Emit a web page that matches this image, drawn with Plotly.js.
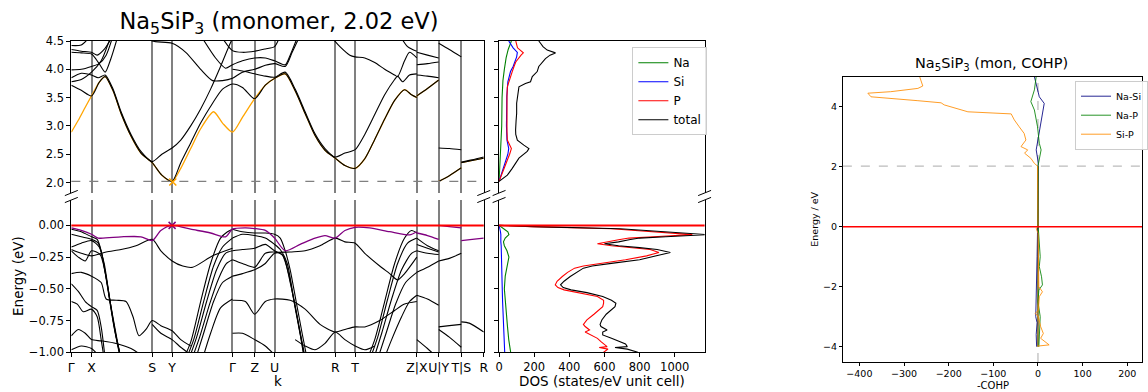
<!DOCTYPE html>
<html><head><meta charset="utf-8">
<script src="https://cdn.plot.ly/plotly-3.0.1.min.js"></script>
<style>html,body{margin:0;padding:0;background:#fff}#chart{width:1148px;height:392px}</style>
</head><body><div id="chart"></div>
<script>
// ---------- high-symmetry path ----------
const KPOS = [0, 0.203, 0.813, 1.013, 1.62, 1.843, 2.043, 2.653, 2.853, 3.473, 3.693, 3.92, 4.146];
const KLAB = ['Γ','X','S','Y','Γ','Z','U','R','T','Z|X','U|Y','T|S','R'];
const GAP = 2.02;

// ---------- conduction bands (k, E) ----------
const CB1 = [[0,3.72],[0.1,3.63],[0.203,3.53],[0.28,3.77],[0.34,3.87],[0.42,3.62],[0.5,3.22],[0.6,2.82],[0.7,2.52],[0.813,2.35],[0.91,2.13],[1.013,2.02],[1.1,2.35],[1.2,2.7],[1.3,3.05],[1.42,3.4],[1.52,3.65],[1.62,3.74],[1.72,3.68],[1.843,3.48],[1.95,3.72],[2.043,3.84],[2.15,3.92],[2.25,3.62],[2.35,3.22],[2.45,2.83],[2.55,2.57],[2.653,2.43],[2.75,2.3],[2.853,2.25],[2.95,2.42],[3.05,2.76],[3.15,3.12],[3.25,3.45],[3.35,3.64],[3.42,3.55],[3.473,3.5]];
const CB2 = [[0,3.85],[0.1,3.93],[0.203,3.9],[0.27,3.85],[0.34,3.9],[0.42,3.65],[0.5,3.25],[0.6,2.85],[0.7,2.55],[0.813,2.37],[0.91,2.5],[1.013,2.61],[1.1,2.75],[1.2,3.0],[1.3,3.3],[1.4,3.65],[1.5,4.05],[1.6,4.47],[1.64,4.6]];
const CB3 = [[1.62,4.0],[1.72,3.97],[1.843,3.92],[1.95,3.88],[2.043,3.86],[2.15,3.95],[2.25,3.65],[2.35,3.25],[2.45,2.86],[2.55,2.6],[2.653,2.45],[2.75,2.52],[2.853,2.58],[2.95,2.85],[3.05,3.2],[3.15,3.55],[3.25,3.82],[3.28,3.88],[3.33,3.78],[3.4,3.9],[3.473,3.92]];
const CB4 = [[0,4.3],[0.1,4.29],[0.203,4.27],[0.28,4.1],[0.34,3.95],[0.4,4.2],[0.47,4.6]];
const CB5 = [[0,4.35],[0.1,4.32],[0.203,4.3],[0.26,4.25],[0.33,4.35],[0.42,4.6]];
const CB6 = [[0,3.99],[0.1,4.0],[0.203,4.05],[0.28,4.1],[0.35,4.25],[0.42,4.6]];
const CB7 = [[0,3.78],[0.1,3.82],[0.203,3.95],[0.3,4.15],[0.4,4.6]];
const CB8 = [[0,4.42],[0.1,4.43],[0.2,4.6]];
const CB9 = [[0.75,4.6],[0.813,4.5],[1.013,4.46],[1.15,4.3],[1.3,4.0],[1.42,3.8],[1.52,3.8],[1.62,3.84],[1.72,3.95],[1.843,4.0],[1.95,4.07],[2.043,4.1],[2.15,4.05],[2.22,4.3],[2.3,4.6]];
const CB10 = [[1.3,4.6],[1.45,4.2],[1.55,4.02],[1.62,4.08],[1.72,4.15],[1.843,4.2],[1.95,4.2],[2.043,4.15],[2.15,4.08],[2.2,4.25],[2.28,4.6]];
const CB11 = [[1.5,4.6],[1.62,4.33],[1.72,4.3],[1.843,4.32],[1.95,4.36],[2.043,4.4],[2.1,4.6]];
const CB12 = [[2.6,4.6],[2.7,4.4],[2.8,4.25],[2.853,4.22],[2.95,4.2],[3.05,4.12],[3.15,4.0],[3.25,3.9],[3.28,3.87],[3.35,4.15],[3.4,4.3],[3.473,4.2]];
const CB13 = [[3.3,4.6],[3.38,4.4],[3.43,4.35],[3.473,4.32]];
const XU_C1 = [[3.473,3.53],[3.58,3.66],[3.693,3.81]];
const XU_C2 = [[3.473,3.9],[3.58,3.88],[3.693,3.85]];
const XU_C3 = [[3.473,4.08],[3.58,4.1],[3.693,4.13]];
const XU_C4 = [[3.473,4.3],[3.58,4.25],[3.693,4.2]];
const YT_C1 = [[3.693,2.02],[3.8,2.12],[3.92,2.26]];
const YT_C2 = [[3.693,2.61],[3.8,2.6],[3.92,2.58]];
const YT_C3 = [[3.693,4.46],[3.8,4.35],[3.92,4.22]];
const SR_C1 = [[3.92,2.35],[4.03,2.39],[4.146,2.43]];
const SR_C2 = [[3.92,2.36],[4.03,2.4],[4.146,2.45]];
// lowest conduction band (orange), by path segment
const LCB_MAIN = [[0,2.89],[0.07,3.1],[0.14,3.33],[0.203,3.53],[0.28,3.77],[0.34,3.87],[0.42,3.62],[0.5,3.22],[0.6,2.82],[0.7,2.52],[0.813,2.35],[0.91,2.13],[1.013,2.02],[1.1,2.25],[1.2,2.6],[1.3,2.95],[1.43,3.25],[1.52,3.05],[1.62,2.89],[1.72,3.15],[1.843,3.48],[1.95,3.72],[2.043,3.84],[2.15,3.92],[2.25,3.62],[2.35,3.22],[2.45,2.83],[2.55,2.57],[2.653,2.43],[2.75,2.3],[2.853,2.25],[2.95,2.42],[3.05,2.76],[3.15,3.12],[3.25,3.45],[3.35,3.64],[3.42,3.55],[3.473,3.5]];
const LCB_XU = [[3.473,3.53],[3.58,3.66],[3.693,3.81]];
const LCB_YT = [[3.693,2.02],[3.8,2.12],[3.92,2.26]];
const LCB_SR = [[3.92,2.35],[4.03,2.39],[4.146,2.43]];

// ---------- valence bands (k, E) ----------
const HVB_MAIN = [[0,-0.02],[0.1,-0.04],[0.203,-0.07],[0.27,-0.1],[0.5,-0.09],[0.7,-0.09],[0.813,-0.12],[0.9,-0.04],[1.013,0],[1.2,-0.03],[1.4,-0.06],[1.55,-0.09],[1.62,-0.03],[1.75,-0.02],[1.843,-0.025],[1.95,-0.04],[2.043,-0.1],[2.15,-0.2],[2.3,-0.15],[2.45,-0.1],[2.55,-0.08],[2.653,-0.1],[2.75,-0.04],[2.853,-0.015],[3.0,-0.02],[3.2,-0.05],[3.4,-0.075],[3.473,-0.05]];
const HVB_XU = [[3.473,-0.06],[3.58,-0.08],[3.693,-0.11]];
const HVB_YT = [[3.693,0.0],[3.8,-0.01],[3.92,-0.02]];
const HVB_SR = [[3.92,-0.12],[4.03,-0.11],[4.146,-0.1]];
const VB1 = [[0,-0.03],[0.1,-0.05],[0.203,-0.09],[0.26,-0.11],[0.3,-0.2],[0.35,-0.42],[0.42,-0.76],[0.48,-1.0],[0.52,-1.15]];
const VB2 = [[0,-0.07],[0.1,-0.09],[0.203,-0.11],[0.27,-0.14],[0.31,-0.24],[0.37,-0.5],[0.44,-0.84],[0.5,-1.05]];
const VB3 = [[0,-0.17],[0.1,-0.14],[0.203,-0.12],[0.28,-0.17],[0.33,-0.3],[0.39,-0.6],[0.46,-0.9],[0.51,-1.1]];
const VB4 = [[0,-0.2],[0.07,-0.25],[0.14,-0.28],[0.203,-0.2],[0.29,-0.23],[0.34,-0.37],[0.41,-0.7],[0.47,-0.95],[0.52,-1.1]];
const VB5 = [[0,-0.19],[0.1,-0.22],[0.203,-0.24],[0.35,-0.21],[0.5,-0.19],[0.65,-0.16],[0.813,-0.11],[0.9,-0.2],[1.013,-0.28],[1.12,-0.32],[1.22,-0.33],[1.42,-0.24],[1.62,-0.18]];
const VB6 = [[0,-0.38],[0.1,-0.37],[0.203,-0.4],[0.3,-0.45],[0.35,-0.58],[0.45,-0.59],[0.55,-0.6],[0.62,-0.72],[0.68,-0.87],[0.75,-0.82],[0.813,-0.75],[0.9,-0.79],[1.013,-0.83],[1.1,-0.9],[1.2,-0.95]];
const VB7 = [[0,-0.46],[0.07,-0.52],[0.14,-0.6],[0.203,-0.64],[0.26,-0.67],[0.3,-0.8],[0.34,-1.05]];
const VB8 = [[0,-0.6],[0.06,-0.62],[0.12,-0.68],[0.203,-0.66],[0.26,-0.72],[0.3,-0.9],[0.33,-1.05]];
const VB9 = [[0,-0.87],[0.07,-0.82],[0.14,-0.85],[0.203,-0.9],[0.3,-0.91],[0.45,-0.93],[0.6,-0.97],[0.7,-1.02]];
const VB10 = [[0,-0.98],[0.1,-0.95],[0.203,-0.97],[0.3,-1.05]];
const VB11 = [[0.813,-0.78],[0.9,-0.85],[1.013,-0.9],[1.1,-0.96],[1.2,-1.02]];
const VF1 = [[1.1,-1.1],[1.2,-0.92],[1.3,-0.6],[1.4,-0.3],[1.5,-0.1],[1.57,-0.05],[1.62,-0.03]];
const VF2 = [[1.13,-1.1],[1.23,-0.9],[1.33,-0.6],[1.43,-0.32],[1.52,-0.17],[1.62,-0.1]];
const VF3 = [[1.16,-1.1],[1.26,-0.88],[1.36,-0.6],[1.46,-0.35],[1.55,-0.22],[1.62,-0.2]];
const VF4 = [[1.19,-1.1],[1.29,-0.88],[1.39,-0.62],[1.48,-0.42],[1.56,-0.3],[1.62,-0.27]];
const VF5 = [[1.23,-1.1],[1.33,-0.85],[1.43,-0.6],[1.52,-0.45],[1.62,-0.4]];
const VF6 = [[1.3,-1.1],[1.4,-0.85],[1.5,-0.65],[1.62,-0.58]];
const VG1 = [[1.62,-0.03],[1.72,-0.05],[1.843,-0.06],[1.95,-0.06],[2.043,-0.07],[2.1,-0.1],[2.15,-0.2],[2.2,-0.35],[2.26,-0.6],[2.32,-0.85],[2.37,-1.05]];
const VG2 = [[1.62,-0.1],[1.72,-0.07],[1.843,-0.08],[1.95,-0.1],[2.043,-0.15],[2.1,-0.19],[2.17,-0.3],[2.23,-0.55],[2.29,-0.8],[2.34,-1.0],[2.36,-1.1]];
const VG3 = [[1.62,-0.2],[1.72,-0.19],[1.843,-0.18],[1.95,-0.15],[2.043,-0.2],[2.12,-0.23],[2.19,-0.4],[2.25,-0.65],[2.31,-0.9],[2.35,-1.1]];
const VG4 = [[1.62,-0.27],[1.72,-0.3],[1.843,-0.33],[1.95,-0.22],[2.043,-0.21],[2.13,-0.24],[2.2,-0.45],[2.27,-0.72],[2.33,-0.98],[2.36,-1.1]];
const VG5 = [[1.62,-0.4],[1.72,-0.38],[1.843,-0.35],[1.95,-0.3],[2.043,-0.22],[2.2,-0.21],[2.35,-0.2],[2.5,-0.16],[2.653,-0.1],[2.75,-0.13],[2.853,-0.14],[2.95,-0.22],[3.1,-0.32],[3.2,-0.38],[3.28,-0.43],[3.35,-0.38],[3.473,-0.25]];
const VG6 = [[1.62,-0.59],[1.75,-0.6],[1.843,-0.7],[1.95,-0.6],[2.043,-0.58],[2.2,-0.59],[2.35,-0.66],[2.5,-0.78],[2.653,-0.84],[2.75,-0.82],[2.853,-0.8],[2.95,-0.8],[3.1,-0.75],[3.25,-0.67],[3.35,-0.62],[3.473,-0.6]];
const VG7 = [[1.62,-0.85],[1.72,-0.85],[1.843,-0.9],[1.95,-0.95],[2.043,-1.02]];
const VG8 = [[2.25,-0.9],[2.35,-0.95],[2.45,-0.98],[2.55,-0.93],[2.653,-0.84],[2.75,-0.9],[2.853,-0.95],[2.95,-0.98],[3.05,-0.95]];
const VT1 = [[2.95,-1.1],[3.05,-0.9],[3.15,-0.6],[3.25,-0.3],[3.35,-0.1],[3.42,-0.04],[3.473,-0.06]];
const VT2 = [[2.98,-1.1],[3.08,-0.88],[3.18,-0.58],[3.28,-0.3],[3.38,-0.14],[3.473,-0.1]];
const VT3 = [[3.02,-1.1],[3.12,-0.85],[3.22,-0.58],[3.32,-0.35],[3.42,-0.22],[3.473,-0.2]];
const VT4 = [[3.06,-1.1],[3.16,-0.86],[3.26,-0.62],[3.36,-0.45],[3.473,-0.37]];
const VT5 = [[3.12,-1.1],[3.22,-0.9],[3.32,-0.72],[3.4,-0.6],[3.473,-0.55]];
const XU_V1 = [[3.473,-0.1],[3.58,-0.16],[3.693,-0.2]];
const XU_V2 = [[3.473,-0.15],[3.58,-0.18],[3.693,-0.21]];
const XU_V3 = [[3.473,-0.2],[3.58,-0.22],[3.693,-0.23]];
const XU_V4 = [[3.473,-0.37],[3.58,-0.33],[3.693,-0.28]];
const XU_V5 = [[3.473,-0.55],[3.58,-0.58],[3.693,-0.63]];
const XU_V6 = [[3.473,-0.9],[3.58,-0.97],[3.693,-1.05]];
const YT_V1 = [[3.693,-0.28],[3.8,-0.26],[3.92,-0.22]];
const YT_V2 = [[3.693,-0.8],[3.8,-0.79],[3.92,-0.78]];
const YT_V3 = [[3.693,-0.82],[3.8,-0.88],[3.92,-0.96]];
const SR_V1 = [[3.92,-0.76],[4.0,-0.77],[4.146,-0.84]];

// ---------- DOS ----------
const DOS_E_TOT_LO = [0,-0.01,-0.026,-0.05,-0.073,-0.09,-0.1,-0.113,-0.13,-0.145,-0.16,-0.175,-0.19,-0.213,-0.24,-0.271,-0.297,-0.32,-0.337,-0.37,-0.403,-0.44,-0.468,-0.49,-0.508,-0.53,-0.56,-0.59,-0.613,-0.64,-0.666,-0.7,-0.745,-0.78,-0.797,-0.824,-0.84,-0.863,-0.89,-0.916,-0.935,-0.955,-0.962,-0.975,-1.0];
const DOS_TOT_LO = [0,200,690,950,1190,950,800,740,680,600,680,800,900,975,900,800,650,530,480,440,405,370,350,365,410,500,590,640,665,660,640,610,585,575,580,615,590,590,640,690,720,730,660,730,790];
const DOS_P_LO = [0,180,640,880,1100,880,740,680,620,560,640,760,860,910,840,720,580,480,430,390,360,330,320,335,370,450,560,595,595,590,570,540,500,480,490,515,490,520,560,580,600,615,570,620,595];
const DOS_E_SP_LO = [0,-0.01,-0.03,-0.05,-0.073,-0.1,-0.13,-0.16,-0.2,-0.25,-0.3,-0.4,-0.5,-0.6,-0.7,-0.8,-0.9,-1.0];
const DOS_NA_LO = [0,8,30,50,56,35,25,30,45,56,48,35,30,35,42,48,55,66];
const DOS_SI_LO = [0,2,5,8,10,9,10,12,13,15,17,18,18,20,22,25,28,32];
const DOS_E_TOT_HI = [2.02,2.13,2.25,2.34,2.43,2.55,2.6,2.66,2.75,2.85,2.93,3.1,3.22,3.4,3.52,3.62,3.69,3.75,3.78,3.87,3.96,4.05,4.13,4.19,4.25,4.29,4.34,4.4,4.46,4.5];
const DOS_TOT_HI = [0,47,75,94,113,160,170,141,104,95,94,97,100,100,104,110,113,150,179,189,217,226,245,264,290,321,274,250,236,226];
const DOS_E_P_HI = [2.02,2.2,2.34,2.5,2.55,2.6,2.7,2.75,2.9,3.2,3.52,3.69,3.78,3.96,4.05,4.13,4.25,4.29,4.38,4.5];
const DOS_P_HI = [0,25,40,60,66,70,55,47,45,43,45,47,55,75,85,95,125,138,105,95];
const DOS_E_SI_HI = [2.02,2.2,2.34,2.5,2.6,2.75,3.0,3.52,3.78,3.96,4.05,4.13,4.22,4.3,4.38,4.5];
const DOS_SI_HI = [0,20,35,50,55,45,42,44,50,65,80,90,100,104,80,55];
const DOS_E_NA_HI = [2.02,2.3,2.6,3.0,3.5,3.8,4.0,4.2,4.35,4.5];
const DOS_NA_HI = [0,5,12,15,17,22,30,40,52,70];

// ---------- COHP ----------
const COHP_E_SIP = [5.0,4.83,4.69,4.61,4.5,4.45,4.33,4.2,4.13,4.06,3.89,3.83,3.76,3.56,3.33,3.11,2.89,2.67,2.56,2.45,2.28,2.11,2.02,1.0,0.0,-0.055,-0.22,-1.0,-2.0,-2.17,-2.33,-2.78,-2.89,-3.0,-3.33,-3.56,-3.72,-3.94,-3.98];
const COHP_SIP = [-265,-262,-258,-269,-330,-381,-374,-269,-217,-210,-172,-157,-60,-53,-42,-31,-27,-38,-23,-30,-16,-8,-1,0,0,-4,0,1,2,10,3,1,-6,1,6,12,6,25,-1];
const COHP_E_NASI = [5.0,4.78,4.33,4.11,3.78,3.33,2.89,2.56,2.11,2.02,0,-0.1,-1.0,-2.0,-3.0,-3.2,-3.6,-4.0];
const COHP_NASI = [-8,-4.5,3,14,10,6,0,-4,1,0,0,-1,-2,-3,-5,-2,-4,-3];
const COHP_E_NAP = [5.0,4.56,4.17,3.89,3.33,2.78,2.56,2.11,2.02,0,-0.1,-1.0,-1.33,-1.67,-1.94,-2.11,-2.5,-3.0,-3.5,-4.0];
const COHP_NAP = [-4,-8,-16,-8,-1,3,7,1,0,0,1,5,3,8,10,2,0,5,3,2];

// ---------- build ----------
const W = 1148, H = 392;
const px = v => v / W, py = v => 1 - v / H;
const FONT = 'DejaVu Sans, Liberation Sans, sans-serif';
const traces = [];
function band(pts, xa, ya, color, width) {
  traces.push({x: pts.map(p => p[0]), y: pts.map(p => p[1]), xaxis: xa, yaxis: ya, mode: 'lines',
    line: {color: color, width: width, shape: 'spline', smoothing: 0.7}, showlegend: false, hoverinfo: 'skip'});
}
[LCB_MAIN, LCB_XU, LCB_YT, LCB_SR].forEach(b => band(b, 'x2', 'y2', 'orange', 1.3));
[CB1, CB2, CB3, CB4, CB5, CB6, CB7, CB8, CB9, CB10, CB11, CB12, CB13, XU_C1, XU_C2, XU_C3, XU_C4, YT_C1, YT_C2, YT_C3, SR_C1, SR_C2]
  .forEach(b => band(b, 'x2', 'y2', 'black', 1.1));
[VB1, VB2, VB3, VB4, VB5, VB6, VB7, VB8, VB9, VB10, VB11, VF1, VF2, VF3, VF4, VF5, VF6, VG1, VG2, VG3, VG4, VG5, VG6, VG7, VG8,
 VT1, VT2, VT3, VT4, VT5, XU_V1, XU_V2, XU_V3, XU_V4, XU_V5, XU_V6, YT_V1, YT_V2, YT_V3, SR_V1]
  .forEach(b => band(b, 'x', 'y', 'black', 1.1));
[HVB_MAIN, HVB_XU, HVB_YT, HVB_SR].forEach(b => band(b, 'x', 'y', 'purple', 1.3));
traces.push({x: [1.013], y: [0], xaxis: 'x', yaxis: 'y', mode: 'markers', marker: {symbol: 'x-thin', size: 7, line: {color: 'purple', width: 1.5}}, showlegend: false, hoverinfo: 'skip'});
traces.push({x: [1.02], y: [2.01], xaxis: 'x2', yaxis: 'y2', mode: 'markers', marker: {symbol: 'x-thin', size: 7, line: {color: 'orange', width: 1.5}}, showlegend: false, hoverinfo: 'skip'});

function dos(xv, yv, xa, ya, color, name, leg) {
  traces.push({x: xv, y: yv, xaxis: xa, yaxis: ya, mode: 'lines', name: name, line: {color: color, width: 1.1},
    showlegend: leg, legend: 'legend', hoverinfo: 'skip'});
}
dos(DOS_NA_LO, DOS_E_SP_LO, 'x3', 'y3', 'green', 'Na', true);
dos(DOS_SI_LO, DOS_E_SP_LO, 'x3', 'y3', 'blue', 'Si', true);
dos(DOS_P_LO, DOS_E_TOT_LO, 'x3', 'y3', 'red', 'P', true);
dos(DOS_TOT_LO, DOS_E_TOT_LO, 'x3', 'y3', 'black', 'total', true);
dos(DOS_NA_HI, DOS_E_NA_HI, 'x4', 'y4', 'green', 'Na', false);
dos(DOS_SI_HI, DOS_E_SI_HI, 'x4', 'y4', 'blue', 'Si', false);
dos(DOS_P_HI, DOS_E_P_HI, 'x4', 'y4', 'red', 'P', false);
dos(DOS_TOT_HI, DOS_E_TOT_HI, 'x4', 'y4', 'black', 'total', false);

function cohp(xv, yv, color, name) {
  traces.push({x: xv, y: yv, xaxis: 'x5', yaxis: 'y5', mode: 'lines', name: name, line: {color: color, width: 1},
    opacity: 0.85, legend: 'legend2', hoverinfo: 'skip'});
}
cohp(COHP_NASI, COHP_E_NASI, 'navy', 'Na-Si');
cohp(COHP_NAP, COHP_E_NAP, 'green', 'Na-P');
cohp(COHP_SIP, COHP_E_SIP, 'darkorange', 'Si-P');

// ---------- layout ----------
const tickF = {family: FONT, size: 11.5, color: 'black'};
const common = {showline: true, linecolor: 'black', linewidth: 1, zeroline: false, ticks: 'outside', ticklen: 4, tickcolor: 'black', tickfont: tickF, tickangle: 0};
const BX = [px(71.7), px(486.3)], DX = [px(501.7), px(708.3)], CX = [px(847.3), 1];
const YTOP = [py(193), py(41)], YBOT = [py(352.3), py(200)];
const layout = {
  width: W, height: H, margin: {l: 0, r: 0, t: 0, b: 0}, paper_bgcolor: 'white', plot_bgcolor: 'white',
  font: {family: FONT, color: 'black'},
  title: {text: 'Na<sub>5</sub>SiP<sub>3</sub> (monomer, 2.02 eV)', x: px(279), xanchor: 'center', y: py(21), yanchor: 'middle', font: {family: FONT, size: 22.5, color: 'black'}},
  xaxis: Object.assign({}, common, {domain: BX, anchor: 'y', range: [0, 4.146], tickmode: 'array', tickvals: KPOS, ticktext: KLAB,
    showgrid: true, gridcolor: 'grey', gridwidth: 2, tickfont: {family: FONT, size: 12.5, color: 'black'}}),
  yaxis: Object.assign({}, common, {domain: YBOT, anchor: 'x', range: [-1, 0.2], tickmode: 'array', tickvals: [0, -0.25, -0.5, -0.75, -1], tickformat: '.2f', mirror: true, showgrid: false}),
  xaxis2: Object.assign({}, common, {domain: BX, anchor: 'y2', range: [0, 4.146], tickmode: 'array', tickvals: KPOS, showticklabels: false, ticks: '', side: 'top',
    showgrid: true, gridcolor: 'grey', gridwidth: 2}),
  yaxis2: Object.assign({}, common, {domain: YTOP, anchor: 'x2', range: [1.815, 4.5], tickmode: 'array', tickvals: [2, 2.5, 3, 3.5, 4, 4.5], tickformat: '.1f', mirror: true, showgrid: false}),
  xaxis3: Object.assign({}, common, {domain: DX, anchor: 'y3', range: [0, 1170], tickmode: 'array', tickvals: [0, 200, 400, 600, 800, 1000], showgrid: false}),
  yaxis3: Object.assign({}, common, {domain: YBOT, anchor: 'x3', range: [-1, 0.2], tickmode: 'array', tickvals: [0, -0.25, -0.5, -0.75, -1], showticklabels: false, mirror: true, showgrid: false}),
  xaxis4: Object.assign({}, common, {domain: DX, anchor: 'y4', range: [0, 1170], showticklabels: false, ticks: '', side: 'top', showgrid: false}),
  yaxis4: Object.assign({}, common, {domain: YTOP, anchor: 'x4', range: [1.815, 4.5], tickmode: 'array', tickvals: [2, 2.5, 3, 3.5, 4, 4.5], showticklabels: false, mirror: true, showgrid: false}),
  xaxis5: Object.assign({}, common, {domain: CX, anchor: 'y5', range: [-437, 233], tickmode: 'array', tickvals: [-400, -300, -200, -100, 0, 100, 200], mirror: true, showgrid: false, ticklen: 3, tickfont: {family: FONT, size: 9.5, color: 'black'}}),
  yaxis5: Object.assign({}, common, {domain: [py(362), py(76.7)], anchor: 'x5', range: [-4.51, 5.0], tickmode: 'array', tickvals: [-4, -2, 0, 2, 4], mirror: true, showgrid: false, ticklen: 3, tickfont: {family: FONT, size: 9.5, color: 'black'}}),
  legend: {x: px(635.7), y: py(47.3), xanchor: 'left', yanchor: 'top', bgcolor: 'rgba(255,255,255,0.9)', bordercolor: '#cccccc', borderwidth: 1,
    font: {family: FONT, size: 12, color: 'black'}, tracegroupgap: 0},
  legend2: {x: px(1080.7), y: py(80.7), xanchor: 'left', yanchor: 'top', bgcolor: 'rgba(255,255,255,0.9)', bordercolor: '#cccccc', borderwidth: 1,
    font: {family: FONT, size: 9.5, color: 'black'}, itemwidth: 30},
  shapes: [], annotations: []
};
const S = layout.shapes, A = layout.annotations;
S.push({type: 'line', xref: 'x domain', yref: 'y', x0: 0, x1: 1, y0: 0, y1: 0, line: {color: 'red', width: 2}});
S.push({type: 'line', xref: 'x3 domain', yref: 'y3', x0: 0, x1: 1, y0: 0, y1: 0, line: {color: 'red', width: 2}});
S.push({type: 'line', xref: 'x2 domain', yref: 'y2', x0: 0, x1: 1, y0: GAP, y1: GAP, line: {color: 'grey', width: 1.3, dash: 'dash'}});
S.push({type: 'line', xref: 'x5 domain', yref: 'y5', x0: 0, x1: 1, y0: GAP, y1: GAP, line: {color: '#aaaaaa', width: 1, dash: 'dash'}});
S.push({type: 'line', xref: 'x5', yref: 'y5 domain', x0: 0, x1: 0, y0: 0, y1: 1, line: {color: '#aaaaaa', width: 1, dash: 'dash'}, layer: 'below'});
S.push({type: 'line', xref: 'x5', yref: 'y5', x0: 0, x1: 0, y0: -4.0, y1: GAP, line: {color: '#8a7a30', width: 1.8}, layer: 'below'});
S.push({type: 'line', xref: 'x5 domain', yref: 'y5', x0: 0, x1: 1, y0: 0, y1: 0, line: {color: 'red', width: 1.5}});
// broken-axis marks
[71.7, 486.3, 501.7, 708.3].forEach(x => {
  [193, 200].forEach(y => {
    S.push({type: 'line', xref: 'paper', yref: 'paper', x0: px(x - 6.5), y0: py(y + 2.6), x1: px(x + 6.5), y1: py(y - 2.6), line: {color: 'black', width: 1}});
  });
});
const ann = (text, x, y, size, angle) => A.push({text: text, x: px(x), y: py(y), xref: 'paper', yref: 'paper', showarrow: false,
  xanchor: 'center', yanchor: 'middle', textangle: angle || 0, font: {family: FONT, size: size, color: 'black'}});
ann('k', 279, 381, 13.5);
ann('DOS (states/eV unit cell)', 605, 381, 13.5);
ann('Energy (eV)', 18, 276, 13.5, -90);
ann('Na<sub>5</sub>SiP<sub>3</sub> (mon, COHP)', 997, 64, 14.5);
ann('-COHP', 998, 385, 10);
ann('Energy / eV', 818, 219, 9.5, -90);

Plotly.newPlot('chart', traces, layout, {staticPlot: true, displayModeBar: false});
</script></body></html>
